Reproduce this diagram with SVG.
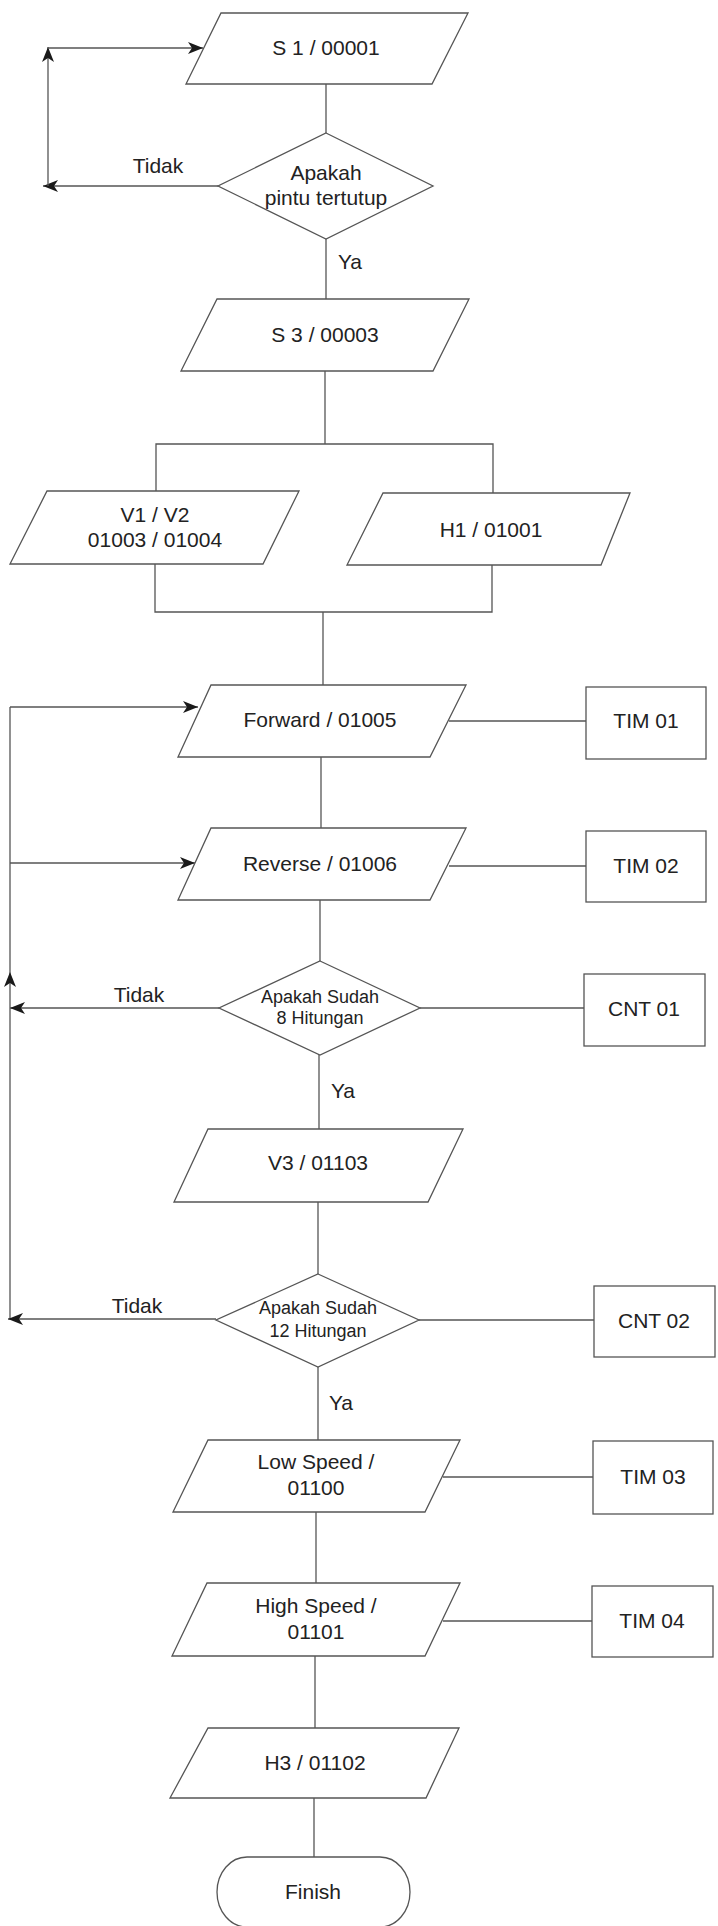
<svg xmlns="http://www.w3.org/2000/svg" width="718" height="1926" viewBox="0 0 718 1926">
<style>
.shape{fill:#fff;stroke:#555;stroke-width:1.3}
.conn{fill:none;stroke:#555;stroke-width:1.3}
.t{font-family:"Liberation Sans",Arial,sans-serif;font-size:21px;fill:#222;text-anchor:middle}
.s{font-size:18px}
</style>
<defs>
<marker id="arr" markerUnits="userSpaceOnUse" markerWidth="16" markerHeight="13" refX="15" refY="6" orient="auto">
<path d="M0,0 L15,6 L0,12 L4,6 Z" fill="#1a1a1a"/>
</marker>
</defs>
<rect width="718" height="1926" fill="#fff"/>
<g id="connectors">
<line class="conn" x1="326" y1="84" x2="326" y2="133"/>
<line class="conn" x1="218" y1="186" x2="43" y2="186" marker-end="url(#arr)"/>
<line class="conn" x1="48" y1="186" x2="48" y2="47" marker-end="url(#arr)"/>
<line class="conn" x1="48" y1="48" x2="203" y2="48" marker-end="url(#arr)"/>
<line class="conn" x1="326" y1="239" x2="326" y2="299"/>
<polyline class="conn" points="325,371 325,444"/>
<polyline class="conn" points="156,491 156,444 493,444 493,493"/>
<polyline class="conn" points="155,564 155,612 492,612 492,565"/>
<line class="conn" x1="323" y1="612" x2="323" y2="685"/>
<line class="conn" x1="10" y1="707" x2="198" y2="707" marker-end="url(#arr)"/>
<line class="conn" x1="10" y1="863" x2="195" y2="863" marker-end="url(#arr)"/>
<line class="conn" x1="449" y1="721" x2="586" y2="721"/>
<line class="conn" x1="321" y1="757" x2="321" y2="828"/>
<line class="conn" x1="449" y1="866" x2="586" y2="866"/>
<line class="conn" x1="320" y1="900" x2="320" y2="961"/>
<line class="conn" x1="420" y1="1008" x2="584" y2="1008"/>
<line class="conn" x1="219" y1="1008" x2="10" y2="1008" marker-end="url(#arr)"/>
<line class="conn" x1="10" y1="1319" x2="10" y2="972" marker-end="url(#arr)"/>
<line class="conn" x1="10" y1="972" x2="10" y2="707"/>
<line class="conn" x1="319" y1="1055" x2="319" y2="1129"/>
<line class="conn" x1="318" y1="1202" x2="318" y2="1274"/>
<line class="conn" x1="419" y1="1320" x2="594" y2="1320"/>
<line class="conn" x1="216" y1="1319" x2="8" y2="1319" marker-end="url(#arr)"/>
<line class="conn" x1="318" y1="1367" x2="318" y2="1440"/>
<line class="conn" x1="443" y1="1477" x2="593" y2="1477"/>
<line class="conn" x1="316" y1="1512" x2="316" y2="1583"/>
<line class="conn" x1="443" y1="1621" x2="592" y2="1621"/>
<line class="conn" x1="315" y1="1656" x2="315" y2="1728"/>
<line class="conn" x1="314" y1="1798" x2="314" y2="1857"/>
<text class="t" x="158" y="173">Tidak</text>
<text class="t" x="350" y="269">Ya</text>
<text class="t" x="139" y="1002">Tidak</text>
<text class="t" x="343" y="1098">Ya</text>
<text class="t" x="137" y="1313">Tidak</text>
<text class="t" x="341" y="1410">Ya</text>
</g>
<g id="s1"><polygon class="shape" points="221,13 468,13 432,84 186,84"/><text class="t" x="326" y="55">S 1 / 00001</text></g>
<g id="d1"><polygon class="shape" points="326,133 433,186 326,239 218,186"/><text class="t" x="326" y="180">Apakah</text><text class="t" x="326" y="205">pintu tertutup</text></g>
<g id="s3"><polygon class="shape" points="217,299 469,299 433,371 181,371"/><text class="t" x="325" y="342">S 3 / 00003</text></g>
<g id="v1v2"><polygon class="shape" points="47,491 299,491 263,564 10,564"/><text class="t" x="155" y="522">V1 / V2</text><text class="t" x="155" y="547">01003 / 01004</text></g>
<g id="h1"><polygon class="shape" points="383,493 630,493 601,565 347,565"/><text class="t" x="491" y="537">H1 / 01001</text></g>
<g id="forward"><polygon class="shape" points="211,685 466,685 430,757 178,757"/><text class="t" x="320" y="727">Forward / 01005</text></g>
<g id="tim01"><rect class="shape" x="586" y="687" width="120" height="72"/><text class="t" x="646" y="728">TIM 01</text></g>
<g id="reverse"><polygon class="shape" points="211,828 466,828 430,900 178,900"/><text class="t" x="320" y="871">Reverse / 01006</text></g>
<g id="tim02"><rect class="shape" x="586" y="831" width="120" height="71"/><text class="t" x="646" y="873">TIM 02</text></g>
<g id="d2"><polygon class="shape" points="320,961 420,1008 320,1055 219,1008"/><text class="t s" x="320" y="1003">Apakah Sudah</text><text class="t s" x="320" y="1024">8 Hitungan</text></g>
<g id="cnt01"><rect class="shape" x="584" y="974" width="121" height="72"/><text class="t" x="644" y="1016">CNT 01</text></g>
<g id="v3"><polygon class="shape" points="208,1129 463,1129 428,1202 174,1202"/><text class="t" x="318" y="1170">V3 / 01103</text></g>
<g id="d3"><polygon class="shape" points="318,1274 419,1320 318,1367 216,1320"/><text class="t s" x="318" y="1314">Apakah Sudah</text><text class="t s" x="318" y="1337">12 Hitungan</text></g>
<g id="cnt02"><rect class="shape" x="594" y="1286" width="121" height="71"/><text class="t" x="654" y="1328">CNT 02</text></g>
<g id="lowspeed"><polygon class="shape" points="208,1440 460,1440 425,1512 173,1512"/><text class="t" x="316" y="1469">Low Speed /</text><text class="t" x="316" y="1495">01100</text></g>
<g id="tim03"><rect class="shape" x="593" y="1441" width="120" height="73"/><text class="t" x="653" y="1484">TIM 03</text></g>
<g id="highspeed"><polygon class="shape" points="207,1583 460,1583 425,1656 172,1656"/><text class="t" x="316" y="1613">High Speed /</text><text class="t" x="316" y="1639">01101</text></g>
<g id="tim04"><rect class="shape" x="592" y="1586" width="121" height="71"/><text class="t" x="652" y="1628">TIM 04</text></g>
<g id="h3"><polygon class="shape" points="208,1728 459,1728 426,1798 170,1798"/><text class="t" x="315" y="1770">H3 / 01102</text></g>
<g id="finish"><rect class="shape" x="217" y="1857" width="193" height="70" rx="30" ry="35"/><text class="t" x="313" y="1899">Finish</text></g>
</svg>
